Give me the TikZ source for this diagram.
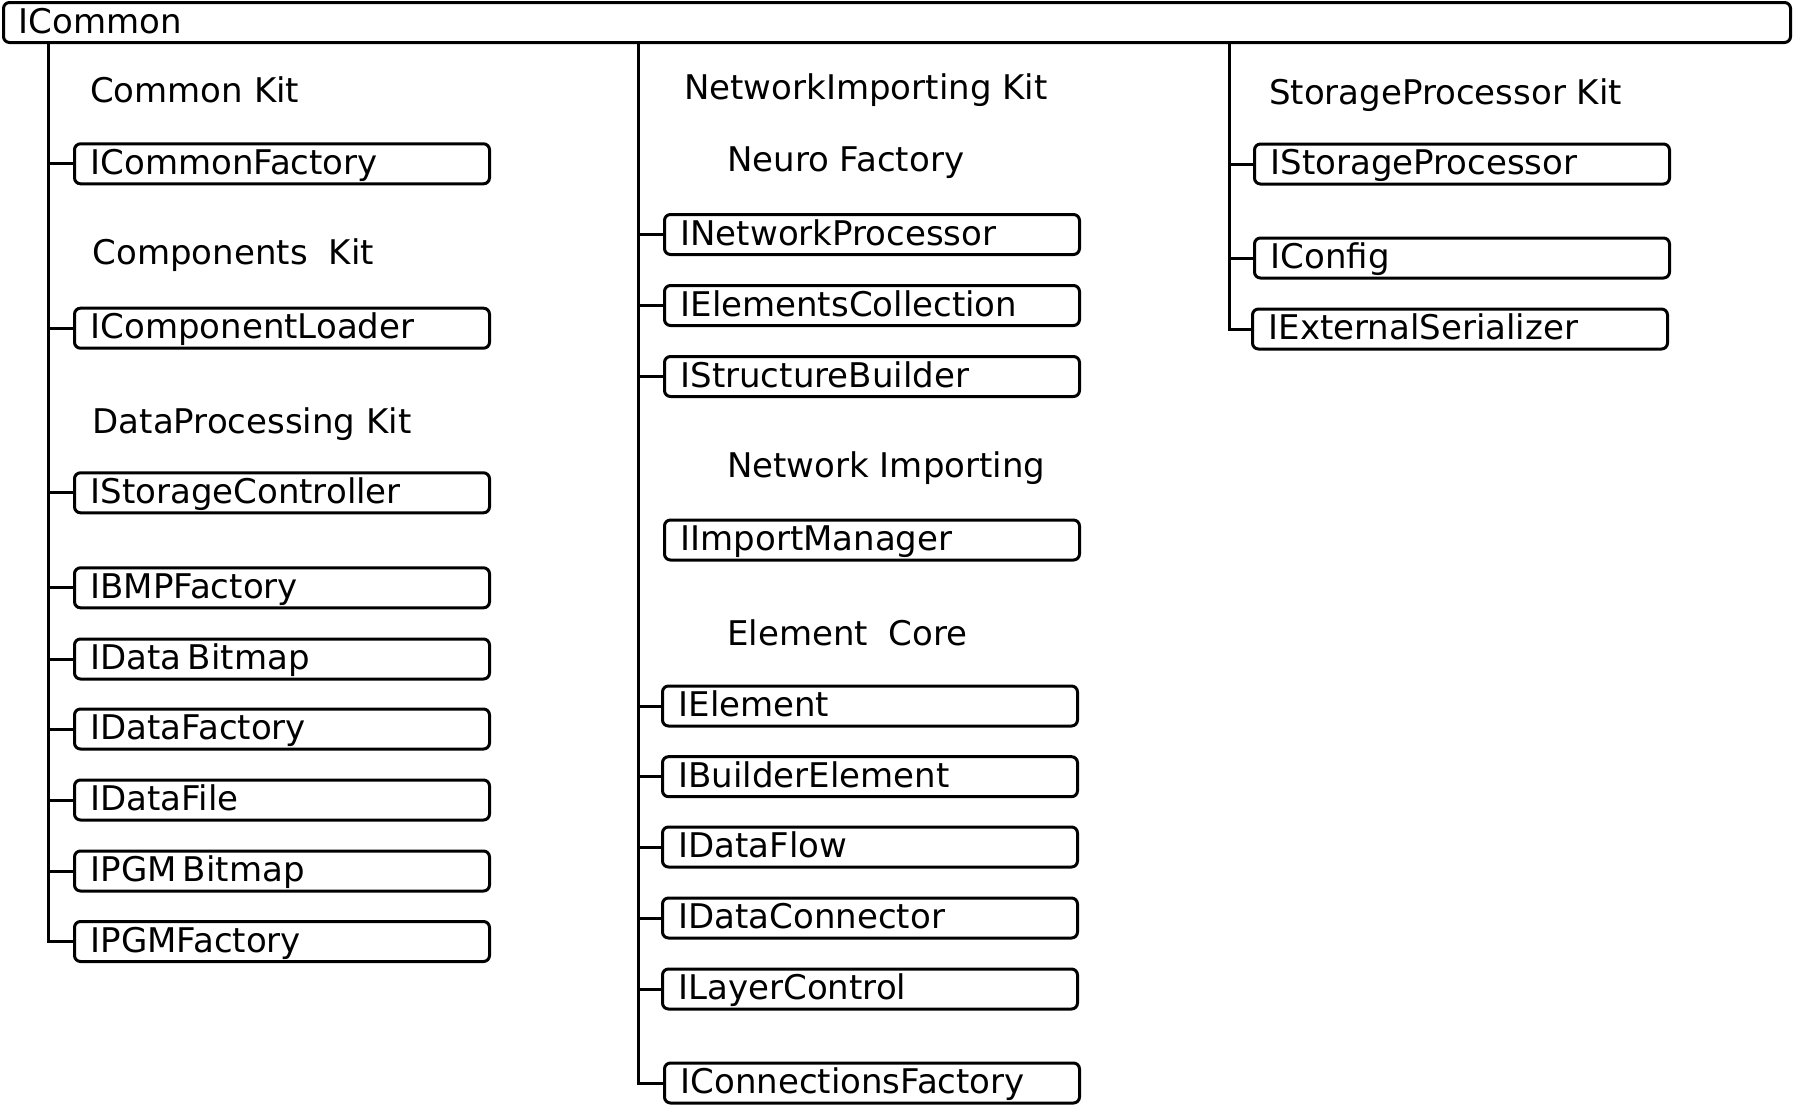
\documentclass[tikz,border=0pt]{standalone}
\usepackage{fontspec}
\setmainfont{DejaVu Sans}
\begin{document}
\begin{tikzpicture}[x=1pt,y=-1pt,
  every node/.style={font=\fontsize{34}{40}\selectfont},
  ibox/.style={draw, line width=3pt, rounded corners=6pt, anchor=west,
    inner xsep=16pt, inner ysep=0pt, minimum height=40pt,
    text height=27pt, text depth=6pt, text width=383pt, align=left},
  head/.style={anchor=base west, inner sep=0pt},
  conn/.style={line width=3pt}]
\useasboundingbox (0,0) rectangle (1793,1106);
% root
\node[ibox, inner xsep=15pt, text width=1757pt] (root) at (2,22.5) {ICommon};
% column line tops
\coordinate (La) at (48,43);
\coordinate (Lb) at (638,43);
\coordinate (Lc) at (1229,43);
% left column
\node[head] (hck) at (90,102) {Common Kit};
\node[ibox] (cf) at (73,163.8) {ICommonFactory};
\node[head] (hcomp) at (92.5,264.5) {Components\hspace{0.3em} Kit};
\node[ibox] (cl) at (73,328.2) {IComponentLoader};
\node[head] (hdp) at (92.5,433) {DataProcessing Kit};
\node[ibox] (sc) at (73,492.8) {IStorageController};
\node[ibox] (bmp) at (73,587.8) {IBMPFactory};
\node[ibox] (db) at (73,659) {IData\hspace{-0.15em} Bitmap};
\node[ibox] (df) at (73,729) {IDataFactory};
\node[ibox] (dfile) at (73,800) {IDataFile};
\node[ibox] (pgmb) at (73,871) {IPGM\hspace{-0.15em} Bitmap};
\node[ibox] (pgmf) at (73,941.5) {IPGMFactory};
% middle column
\node[head] (hnik) at (684,99) {NetworkImporting Kit};
\node[head] (hnf) at (727,171) {Neuro Factory};
\node[ibox] (np) at (663,234.5) {INetworkProcessor};
\node[ibox] (ec) at (663,305.5) {IElementsCollection};
\node[ibox] (sb) at (663,376.5) {IStructureBuilder};
\node[head] (hni) at (727,477) {Network Importing};
\node[ibox] (im) at (663,540) {IImportManager};
\node[head] (hec) at (727,645) {Element\hspace{0.3em} Core};
\node[ibox] (el) at (661,706) {IElement};
\node[ibox] (be) at (661,776.7) {IBuilderElement};
\node[ibox] (dflow) at (661,847) {IDataFlow};
\node[ibox] (dc) at (661,918) {IDataConnector};
\node[ibox] (lc) at (661,989) {ILayerControl};
\node[ibox] (cfac) at (663,1083) {IConnectionsFactory};
% right column
\node[head] (hsp) at (1269,104) {StorageProcessor Kit};
\node[ibox] (sp) at (1253,164) {IStorageProcessor};
\node[ibox] (cfg) at (1253,258) {IConfig};
\node[ibox] (es) at (1251,329) {IExternalSerializer};
% connectors
\draw[conn] (La) |- (pgmf.west);
\foreach \n in {cf,cl,sc,bmp,db,df,dfile,pgmb}
  \draw[conn] (\n.west) -- (\n.west -| La);
\draw[conn] (Lb) |- (cfac.west);
\foreach \n in {np,ec,sb,el,be,dflow,dc,lc}
  \draw[conn] (\n.west) -- (\n.west -| Lb);
\draw[conn] (Lc) |- (es.west);
\foreach \n in {sp,cfg}
  \draw[conn] (\n.west) -- (\n.west -| Lc);
\end{tikzpicture}
\end{document}
